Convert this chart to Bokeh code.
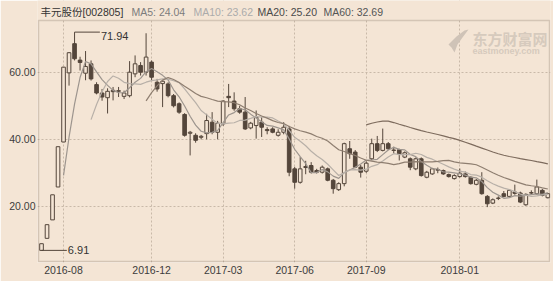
import pandas as pd
from bokeh.plotting import figure
from bokeh.models import (ColumnDataSource, FixedTicker, NumeralTickFormatter,
                          Label, Range1d, PolyAnnotation, BoxAnnotation)
from bokeh.core.properties import value
from bokeh.embed import file_html
from bokeh.resources import INLINE

# Weekly quotes of 丰元股份 (002805), one row per trading week
open_ = [6.91, 10.5, 16.0, 25.8, 39.2, 59.8, 68.5, 63.6, 59.7, 62.5,
         56.3, 53.8, 52.4, 54.6, 54.3, 52.8, 53.0, 59.5, 62.0, 60.0,
         63.0, 57.0, 56.6, 56.5, 53.0, 50.6, 47.4, 41.8, 41.2, 40.6,
         41.7, 45.1, 42.1, 44.6, 52.8, 51.4, 49.1, 48.1, 43.4, 44.1,
         45.1, 42.9, 43.1, 41.2, 42.1, 43.1, 31.2, 27.2, 31.9, 32.2,
         30.7, 30.2, 31.2, 27.8, 25.0, 26.8, 37.2, 36.2, 31.7, 30.5,
         34.2, 38.7, 36.7, 38.7, 36.8, 36.9, 34.7, 34.2, 31.2, 34.2,
         28.7, 29.7, 30.8, 30.7, 29.5, 28.3, 28.9, 29.7, 28.7, 26.6,
         27.8, 23.0, 21.0, 22.4, 23.8, 23.0, 24.3, 24.0, 20.5, 24.1,
         23.8, 24.8, 22.6]
high = [8.9, 14.57, 23.47, 37.8, 61.5, 66.0, 71.94, 64.6, 66.3, 63.5,
        57.0, 55.0, 55.2, 55.6, 55.6, 54.5, 63.3, 65.0, 63.0, 71.6,
        63.5, 58.0, 57.6, 57.0, 53.5, 51.0, 47.8, 42.5, 41.8, 41.3,
        47.6, 48.1, 45.5, 51.6, 56.5, 54.0, 50.0, 52.6, 45.2, 48.6,
        46.6, 43.6, 43.6, 43.0, 45.1, 44.0, 31.8, 34.7, 33.6, 33.2,
        31.2, 32.2, 31.6, 28.2, 27.2, 39.0, 39.5, 36.8, 32.4, 33.4,
        40.2, 41.0, 43.2, 39.2, 37.8, 37.2, 36.4, 34.6, 34.6, 34.6,
        30.6, 31.5, 31.6, 31.0, 29.8, 29.6, 31.3, 30.4, 29.0, 28.2,
        30.2, 23.4, 22.4, 23.0, 24.6, 25.0, 26.5, 24.4, 23.9, 24.8,
        28.0, 25.2, 24.0]
low = [6.91, 10.5, 16.0, 25.8, 39.2, 56.0, 63.5, 60.5, 57.6, 57.5,
       53.4, 51.5, 47.7, 51.6, 52.6, 52.0, 52.5, 58.5, 59.0, 59.0,
       57.5, 54.2, 49.6, 52.5, 49.5, 47.6, 40.8, 35.2, 39.0, 40.0,
       40.0, 41.5, 40.0, 44.0, 49.6, 48.5, 47.6, 42.8, 43.0, 40.2,
       40.7, 41.5, 41.8, 40.8, 41.5, 29.0, 25.3, 26.8, 29.6, 29.8,
       29.8, 29.8, 27.5, 23.8, 24.6, 26.0, 34.2, 31.4, 28.6, 30.0,
       33.8, 36.2, 36.4, 36.8, 35.8, 33.7, 34.4, 30.8, 30.8, 28.9,
       28.4, 29.4, 29.9, 29.4, 28.6, 28.0, 28.6, 28.6, 26.5, 26.3,
       23.5, 19.8, 20.7, 21.9, 22.7, 22.7, 23.5, 21.0, 20.2, 23.4,
       23.5, 23.0, 22.4]
close = [8.9, 14.57, 23.47, 37.8, 61.5, 65.8, 64.0, 62.9, 61.7, 58.0,
         53.8, 52.6, 54.3, 54.2, 54.5, 53.8, 60.0, 62.5, 60.0, 64.5,
         58.5, 55.0, 57.3, 53.0, 50.0, 48.1, 41.2, 42.1, 39.7, 40.9,
         45.6, 42.1, 44.8, 51.4, 52.4, 49.1, 48.1, 43.1, 44.8, 46.6,
         43.6, 42.6, 42.1, 42.1, 43.6, 30.2, 27.2, 31.2, 31.6, 30.2,
         30.2, 31.7, 27.8, 25.3, 26.8, 38.7, 35.7, 31.7, 30.2, 32.9,
         38.7, 36.7, 38.7, 37.2, 36.7, 35.7, 36.0, 31.7, 34.2, 29.2,
         30.2, 31.2, 31.0, 29.7, 28.9, 29.2, 29.9, 28.9, 26.8, 27.8,
         23.8, 20.8, 22.0, 22.5, 23.0, 24.8, 23.9, 21.3, 23.6, 24.0,
         25.8, 23.3, 23.8]

# Month labels and the week index where each month starts
tick_index = [4, 20, 33, 46, 59, 76]
tick_labels = ["2016-08", "2016-12", "2017-03", "2017-06", "2017-09", "2018-01"]
price_ticks = [20, 40, 60]

# Latest moving-average readings shown in the header
ma_names = ["MA5", "MA10", "MA20", "MA60"]
ma_windows = [5, 10, 20, 60]
ma_values = ["24.04", "23.62", "25.20", "32.69"]

BG = "#f4e5d5"
DARK = "#54463b"
GRID = "#c9b9a8"
BORDER = "#8c7c6e"
MA_COLORS = {"MA5": "#9d958e", "MA10": "#b8b0a8", "MA20": "#8e7e70", "MA60": "#7d6b5d"}
HEAD_COLORS = {"MA5": "#7c7c7c", "MA10": "#ababab", "MA20": "#4a4a4a", "MA60": "#555555"}
FONT = "Liberation Sans, Noto Sans CJK SC"

df = pd.DataFrame({"open": open_, "high": high, "low": low, "close": close})
df["idx"] = range(len(df))
df["up"] = df["close"] >= df["open"]
df["top"] = df[["open", "close"]].max(axis=1)
df["bottom"] = df[["open", "close"]].min(axis=1)

src_up = ColumnDataSource(df[df["up"]])
src_dn = ColumnDataSource(df[~df["up"]])
src_all = ColumnDataSource(df)

# Chart box in data units; the frame reaches up to the canvas top so the
# header line can live inside it, above the box.
X0, X1 = -0.55, 92.3
Y0, Y1 = 3.6, 75.4
PX_X = 511 / (X1 - X0)      # pixels per week
PX_Y = 241 / (Y1 - Y0)      # pixels per price unit
x_range = Range1d(X0 - 1 / PX_X, X1 + 1 / PX_X)
y_range = Range1d(Y0 - 1 / PX_Y, Y1 + 20 / PX_Y)

p = figure(width=553, height=281, output_backend="svg", toolbar_location=None,
           x_range=x_range, y_range=y_range,
           min_border_left=37, min_border_right=3, min_border_top=0,
           min_border_bottom=19)
p.background_fill_color = BG
p.border_fill_color = BG
p.outline_line_color = None

# grid
p.xgrid.ticker = FixedTicker(ticks=tick_index)
p.ygrid.ticker = FixedTicker(ticks=price_ticks)
for g in (p.xgrid, p.ygrid):
    g.grid_line_color = GRID
    g.grid_line_dash = "2 2"
    g.grid_line_width = 1

# axes
p.xaxis.ticker = FixedTicker(ticks=tick_index)
p.xaxis.major_label_overrides = {i: t for i, t in zip(tick_index, tick_labels)}
p.yaxis.ticker = FixedTicker(ticks=price_ticks)
p.yaxis.formatter = NumeralTickFormatter(format="0.00")
for ax in (p.xaxis, p.yaxis):
    ax.axis_line_color = None
    ax.major_tick_line_color = None
    ax.minor_tick_line_color = None
    ax.major_tick_in = 0
    ax.major_tick_out = 0
    ax.major_label_text_font = FONT
    ax.major_label_text_font_size = "10.5px"
    ax.major_label_text_color = "#3c3c3c"
p.xaxis.major_label_standoff = 3
p.yaxis.major_label_standoff = 2

# candles: wicks, hollow rising bodies, filled falling bodies
p.segment(x0="idx", y0="high", x1="idx", y1="low", source=src_all,
          line_color=DARK, line_width=1)
p.vbar(x="idx", top="top", bottom="bottom", width=0.66, source=src_up,
       fill_color=BG, line_color=DARK, line_width=1)
p.vbar(x="idx", top="top", bottom="bottom", width=0.66, source=src_dn,
       fill_color=DARK, line_color=DARK, line_width=1)

# moving averages of closing prices
for name, n in zip(ma_names, ma_windows):
    ma = df["close"].rolling(n).mean()
    ok = ma.notna()
    p.line(df["idx"][ok], ma[ok], line_color=MA_COLORS[name], line_width=1.2)

# highest high and lowest low markers
imax = int(df["high"].idxmax())
imin = int(df["low"].idxmin())
hmax = df["high"][imax]
lmin = df["low"][imin]
p.segment(x0=[imax], y0=[hmax], x1=[imax + 4.6], y1=[hmax], line_color=DARK, line_width=1)
p.segment(x0=[imin], y0=[lmin], x1=[imin + 4.6], y1=[lmin], line_color=DARK, line_width=1)
p.text(x=[imax + 4.8], y=[hmax], text=[f"{hmax:.2f}"], text_font=value(FONT),
       text_font_size="11px", text_color="#333333", text_baseline="top")
p.text(x=[imin + 4.6], y=[lmin], text=[f"{lmin:.2f}"], text_font=value(FONT),
       text_font_size="11px", text_color="#333333", text_baseline="alphabetic", x_offset=1)

# header strip above the chart box, then the box outline
p.add_layout(BoxAnnotation(bottom=Y1, fill_color=BG, fill_alpha=1, line_color=None))
p.add_layout(BoxAnnotation(left=X0, right=X1, bottom=Y0, top=Y1, fill_alpha=0,
                           line_color=BORDER, line_width=1.5))

# header line (screen units from the frame's bottom-left corner)
FRAME_BOTTOM = 262
FRAME_LEFT = 37
head_y = FRAME_BOTTOM - 11
p.add_layout(Label(x=40 - FRAME_LEFT, y=head_y, x_units="screen", y_units="screen",
                   text="丰元股份[002805]", text_font=FONT, text_font_size="10.5px",
                   text_color="#333333", text_baseline="middle"))
for name, val, cx in zip(ma_names, ma_values, [131, 193, 257, 323]):
    p.add_layout(Label(x=cx - FRAME_LEFT, y=head_y, x_units="screen", y_units="screen",
                       text=f"{name}: {val}", text_font=FONT, text_font_size="10.5px",
                       text_color=HEAD_COLORS[name], text_baseline="middle"))

# eastmoney watermark
logo_x = [448, 456, 464, 468, 462, 457, 454, 451]
logo_y = [44, 36, 30, 29, 37, 44, 52, 47]
p.add_layout(PolyAnnotation(xs=[x - FRAME_LEFT for x in logo_x],
                            ys=[FRAME_BOTTOM - y for y in logo_y],
                            xs_units="screen", ys_units="screen",
                            fill_color="#cfc3b7", fill_alpha=1, line_color=None))
p.add_layout(Label(x=472 - FRAME_LEFT, y=FRAME_BOTTOM - 37.5, x_units="screen", y_units="screen",
                   text="东方财富网", text_font="Noto Sans CJK SC", text_font_size="15px",
                   text_font_style="bold", text_color="#d6cabd", text_baseline="middle"))
p.add_layout(Label(x=472 - FRAME_LEFT, y=FRAME_BOTTOM - 50.5, x_units="screen", y_units="screen",
                   text="eastmoney.com", text_font=FONT, text_font_size="9px",
                   text_font_style="bold", text_color="#d6cabd", text_baseline="middle"))

open("out.html", "w").write(file_html(p, INLINE))
